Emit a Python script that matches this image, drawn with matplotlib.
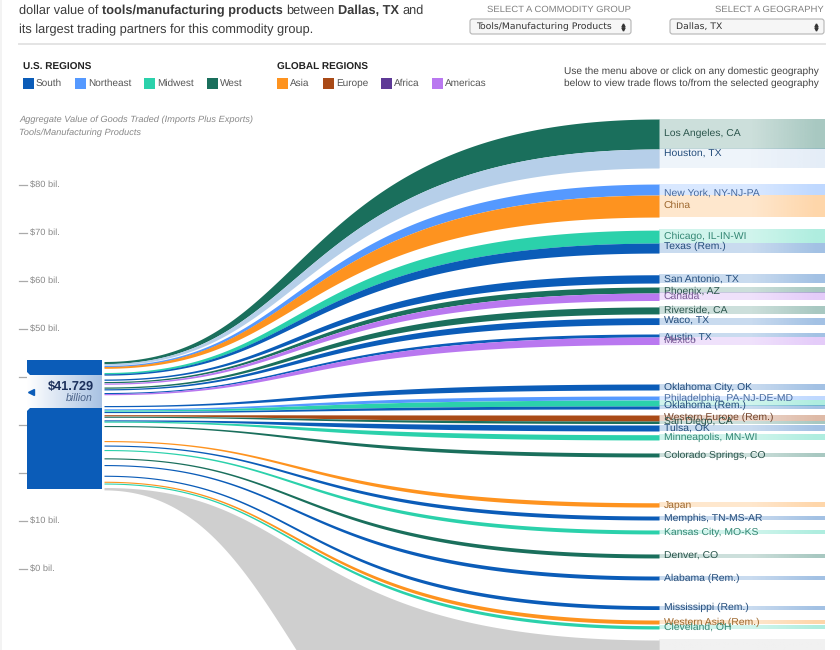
import numpy as np
import matplotlib
matplotlib.use('Agg')
import matplotlib.pyplot as plt
from matplotlib.colors import to_rgb
from matplotlib.patches import FancyBboxPatch

plt.rcParams['font.family'] = ['Liberation Sans', 'DejaVu Sans']
plt.rcParams['text.hinting'] = 'no_hinting'

# trade partners, top to bottom. all values in $ billions on the chart scale
partners = ['Los Angeles, CA', 'Houston, TX', 'New York, NY-NJ-PA', 'China', 'Chicago, IL-IN-WI', 'Texas (Rem.)',
            'San Antonio, TX', 'Phoenix, AZ', 'Canada', 'Riverside, CA', 'Waco, TX', 'Austin, TX', 'Mexico',
            'Oklahoma City, OK', 'Philadelphia, PA-NJ-DE-MD', '', 'Oklahoma (Rem.)', 'Western Europe (Rem.)',
            'San Diego, CA', 'Tulsa, OK', 'Minneapolis, MN-WI', 'Colorado Springs, CO', 'Japan', 'Memphis, TN-MS-AR',
            'Kansas City, MO-KS', 'Denver, CO', 'Alabama (Rem.)', 'Mississippi (Rem.)', 'Western Asia (Rem.)',
            'Cleveland, OH', '']
partner_regions = ['West', 'Houston', 'Northeast', 'Asia', 'Midwest', 'South',
                   'South', 'West', 'Americas', 'West', 'South', 'South', 'Americas',
                   'South', 'Northeast', 'Midwest', 'South', 'Europe',
                   'West', 'South', 'Midwest', 'West', 'Asia', 'South',
                   'Midwest', 'West', 'South', 'South', 'Asia',
                   'Midwest', 'Other']
trade_values = [6.25, 3.96, 2.29, 4.58, 2.71, 2.08,
                1.73, 1.25, 1.56, 1.46, 1.42, 0.63, 1.56,
                1.25, 0.83, 1.25, 0.63, 1.25,
                0.52, 1.25, 1.10, 0.83, 0.90, 0.83,
                0.83, 0.83, 0.83, 0.79, 0.83,
                0.69, 51.5]
end_levels = [93.75, 87.5, 80.2, 77.9, 70.6, 67.9,
              61.3, 58.75, 57.5, 54.6, 52.35, 48.96, 48.33,
              38.54, 36.04, 35.2, 33.96, 32.08,
              30.83, 30.0, 27.98, 24.17, 13.8, 11.04,
              8.13, 3.13, -1.46, -7.65, -10.63,
              -11.81, -14.79]
start_levels = [43.23, 42.81, 42.4, 42.19, 40.94, 40.67,
                39.58, 39.06, 38.75, 37.92, 37.56, 36.77, 36.56,
                34.06, 33.38, 33.13, 32.81, 32.15,
                31.83, 31.08, 30.83, 29.9, 26.77, 25.83,
                24.9, 23.17, 21.77, 19.54, 18.29,
                17.92, 16.98]

axis_ticks = [80, 70, 60, 50, 40, 30, 20, 10, 0]

us_regions = ['South', 'Northeast', 'Midwest', 'West']
global_regions = ['Asia', 'Europe', 'Africa', 'Americas']
region_colors = {'South': '#0b5cb8', 'Northeast': '#5599ff', 'Midwest': '#2bd1ab', 'West': '#1a6f5c',
                 'Asia': '#fe931f', 'Europe': '#a94a17', 'Africa': '#5e3a96', 'Americas': '#b978f0',
                 'Houston': '#b6cfe9', 'Other': '#cfcfcf'}


def py(v):
    # pixel row of the page -> chart scale, used for page furniture
    return (569 - v) / 4.8


def bezier_curve(x0, x1, y0, y1, n=160):
    s = np.linspace(0, 1, n)
    a, b = 0.38, 0.33
    xs = 3 * (1 - s) ** 2 * s * a + 3 * (1 - s) * s ** 2 * b + s ** 3
    ys = 3 * s ** 2 - 2 * s ** 3
    return x0 + (x1 - x0) * xs, y0 + (y1 - y0) * ys


def label_color(col):
    return tuple(0.5 * c + 0.5 * 0.24 for c in to_rgb(col))


def band_gradient(col, low, high):
    k = np.linspace(0, 1, 256)
    ramp = low + (high - low) * np.clip((k - 0.55) / 0.4, 0, 1)
    img = np.ones((1, 256, 4))
    img[0, :, :3] = to_rgb(col)
    img[0, :, 3] = ramp
    return img


def text_runs(x, y, runs, size, color):
    # mixed regular / bold text on one line, gaps are added by hand
    for txt, weight in runs:
        t = ax.text(x, py(y), txt, fontsize=size, color=color, fontweight=weight, va='center', ha='left')
        ext = t.get_window_extent(renderer)
        x = ax.transData.inverted().transform((ext.x1, ext.y0))[0] + 3.4


fig = plt.figure(figsize=(8.4, 6.5), dpi=100)
ax = fig.add_axes([0, 0, 1, 1])
ax.set_xlim(0, 840)
ax.set_ylim(py(650), py(0))
ax.axis('off')
renderer = fig.canvas.get_renderer()

source_x = 104
target_x = 659
band_end = 825

# page strip on the left
ax.fill_between([0, 2], py(650), py(0), color='#f3f3f3', lw=0)

# header
text_runs(19, 11, [('dollar value of', 'normal'), ('tools/manufacturing products', 'bold'), ('between', 'normal'),
                   ('Dallas, TX', 'bold'), ('and', 'normal')], 9.2, '#3a3a3a')
text_runs(19, 30, [('its largest trading partners for this commodity group.', 'normal')], 9.2, '#3a3a3a')
ax.plot([19, 825], [py(44), py(44)], color='#e4e4e4', lw=1.4)

ax.text(631, py(10), 'SELECT A COMMODITY GROUP', fontsize=6.8, color='#808080', ha='right', va='center')
ax.text(824, py(10), 'SELECT A GEOGRAPHY', fontsize=6.8, color='#808080', ha='right', va='center')
for x0, x1, txt in [(469, 632, 'Tools/Manufacturing Products'), (669, 825, 'Dallas, TX')]:
    ax.add_patch(FancyBboxPatch((x0 + 1, py(34)), x1 - x0 - 2, py(19) - py(34),
                                boxstyle='round,pad=0,rounding_size=2.5', mutation_aspect=1 / 4.8,
                                fc='#f6f6f6', ec='#b5b5b5', lw=0.8))
    ax.text(x0 + 7, py(26.5), txt, fontsize=6.7, color='#333333', va='center', family=['DejaVu Sans'])
    ax.plot([x1 - 9], [py(24.5)], marker='^', ms=2.2, color='#333333', lw=0)
    ax.plot([x1 - 9], [py(29)], marker='v', ms=2.2, color='#333333', lw=0)

# legend
ax.text(23, py(67.5), 'U.S. REGIONS', fontsize=7.2, color='#222222', fontweight='bold', va='center')
ax.text(277, py(67.5), 'GLOBAL REGIONS', fontsize=7.2, color='#222222', fontweight='bold', va='center')
legend_x = {'South': 23, 'Northeast': 75, 'Midwest': 144, 'West': 207, 'Asia': 277, 'Europe': 323, 'Africa': 381,
            'Americas': 432}
for name in us_regions + global_regions:
    x = legend_x[name]
    ax.fill([x, x + 10.5, x + 10.5, x], [py(78), py(78), py(88.5), py(88.5)], color=region_colors[name], lw=0)
    ax.text(x + 13, py(83.5), name, fontsize=7.2, color='#555555', va='center')
ax.text(564, py(71), 'Use the menu above or click on any domestic geography', fontsize=7.3, color='#444444', va='center')
ax.text(564, py(83.5), 'below to view trade flows to/from the selected geography', fontsize=7.3, color='#444444',
        va='center')

ax.text(19, py(120), 'Aggregate Value of Goods Traded (Imports Plus Exports)', fontsize=6.7, color='#888888',
        style='italic', va='center')
ax.text(19, py(133), 'Tools/Manufacturing Products', fontsize=6.7, color='#888888', style='italic', va='center')

# dollar axis, the node hides the ticks it covers
for v in axis_ticks:
    ax.plot([19, 27], [v, v], color='#aaaaaa', lw=0.9, zorder=1)
    ax.text(30, v, '$%d bil.' % v, fontsize=6.7, color='#888888', va='center', zorder=1)

# ribbons and end bands
for name, region, value, end, start in zip(partners, partner_regions, trade_values, end_levels, start_levels):
    col = region_colors[region]
    start_w = min(0.2 + 0.04 * value, 0.5)
    xs, top = bezier_curve(source_x, target_x, start, end)
    _, bot = bezier_curve(source_x, target_x, start - start_w, end - value)
    ax.fill_between(xs, bot, top, color=col, lw=0, zorder=3)
    if region == 'Houston':
        grad = band_gradient(region_colors['South'], 0.07, 0.11)
    elif region == 'Other':
        grad = band_gradient('#999999', 0.14, 0.14)
    else:
        grad = band_gradient(col, 0.22, 0.38)
    ax.imshow(grad, extent=(target_x, band_end, end - value, end), aspect='auto', interpolation='bilinear', zorder=3)

ax.set_xlim(0, 840)
ax.set_ylim(py(650), py(0))

# labels go on after every band so that they can overlap
label_nudge = {'Los Angeles, CA': -1, 'Houston, TX': -4.5, 'New York, NY-NJ-PA': 3.5, 'China': -1, 'Austin, TX': 1.5,
               'Oklahoma (Rem.)': -2, 'Western Europe (Rem.)': -0.5, 'San Diego, CA': -1, 'Chicago, IL-IN-WI': -0.5,
               'Texas (Rem.)': -2, 'Phoenix, AZ': 1}
for name, region, value, end in zip(partners, partner_regions, trade_values, end_levels):
    if name == '':
        continue
    col = region_colors['South'] if region == 'Houston' else region_colors[region]
    center = end - value / 2 - label_nudge.get(name, 0) / 4.8
    ax.text(663.5, center, name, fontsize=7.5, color=label_color(col), va='center', zorder=5)

# source node
node_top, node_bottom = py(360), py(489)
sel_top, sel_bottom = py(375), py(408)
ax.fill([27, 102, 102, 30, 27], [node_top, node_top, sel_top, sel_top, py(372)], color=region_colors['South'], lw=0,
        zorder=4)
ax.fill([30, 102, 102, 27, 27], [sel_bottom, sel_bottom, node_bottom, node_bottom, py(411)],
        color=region_colors['South'], lw=0, zorder=4)
sel_img = np.ones((1, 256, 3))
sel_img[0, :, 0] = np.linspace(1, 0.66, 256)
sel_img[0, :, 1] = np.linspace(1, 0.76, 256)
sel_img[0, :, 2] = np.linspace(1, 0.89, 256)
ax.imshow(sel_img, extent=(27, 102, sel_bottom, sel_top), aspect='auto', interpolation='bilinear', zorder=4)
ax.set_xlim(0, 840)
ax.set_ylim(py(650), py(0))
ax.text(94, py(387), '$41.729', fontsize=9.2, fontweight='bold', color='#1b2f5b', ha='right', va='center', zorder=5)
ax.text(93, py(399), 'billion', fontsize=7.6, style='italic', color='#4a6288', ha='right', va='center', zorder=5)
ax.plot([31], [py(392)], marker='<', ms=4, color=region_colors['South'], lw=0, zorder=5)

fig.savefig('out.png', dpi=100)
plt.close()
